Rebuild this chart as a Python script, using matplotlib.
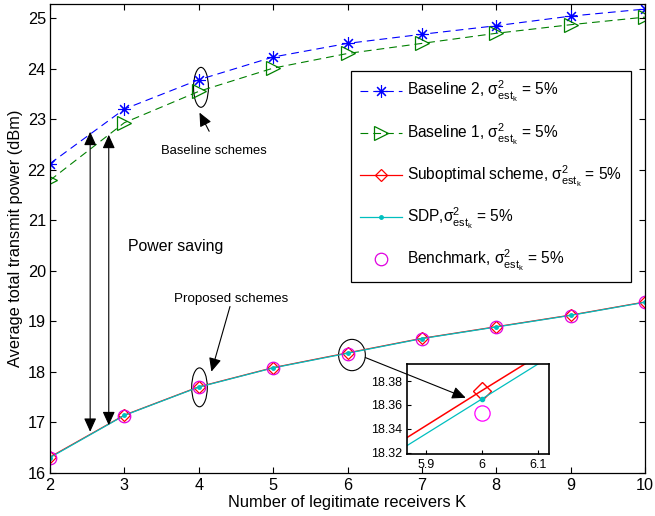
import matplotlib
matplotlib.use("Agg")
import matplotlib.pyplot as plt
from matplotlib.patches import Ellipse

plt.rcParams['font.family'] = ['Liberation Sans', 'DejaVu Sans']
plt.rcParams['mathtext.fontset'] = 'custom'
plt.rcParams['mathtext.rm'] = 'Liberation Sans'
plt.rcParams['mathtext.it'] = 'Liberation Sans:italic'
plt.rcParams['mathtext.bf'] = 'Liberation Sans:bold'

K = [2, 3, 4, 5, 6, 7, 8, 9, 10]
baseline2 = [22.12, 23.20, 23.78, 24.23, 24.50, 24.68, 24.85, 25.04, 25.18]
baseline1 = [21.79, 22.93, 23.55, 24.01, 24.30, 24.50, 24.70, 24.87, 25.02]
suboptimal = [16.31, 17.14, 17.70, 18.08, 18.372, 18.66, 18.89, 19.12, 19.38]
sdp = [16.30, 17.135, 17.695, 18.075, 18.365, 18.655, 18.885, 19.115, 19.375]
benchmark = [16.30, 17.13, 17.69, 18.07, 18.353, 18.65, 18.88, 19.11, 19.37]

xlabel = "Number of legitimate receivers K"
ylabel = "Average total transmit power (dBm)"
sig = r"$\mathrm{σ}^2_{\mathrm{est}_{\mathrm{k}}}$"
labels = ["Baseline 2, " + sig + " = 5%",
          "Baseline 1, " + sig + " = 5%",
          "Suboptimal scheme, " + sig + " = 5%",
          "SDP," + sig + " = 5%",
          "Benchmark, " + sig + " = 5%"]

fig = plt.figure(figsize=(6.55, 5.16), dpi=100)
ax = fig.add_axes([50/655, (516-472.7)/516, (645-50)/655, (472.7-4)/516])

dash = (0, (7, 4.5))
ax.plot(K, baseline2, color='blue', linestyle=dash, lw=0.8, marker=(8, 2, 0),
        markersize=9, markeredgewidth=0.8, label=labels[0])
ax.plot(K, baseline1, color='#008000', linestyle=dash, lw=0.8, marker='>',
        markersize=10.5, markerfacecolor='none', markeredgewidth=0.9, label=labels[1])
ax.plot(K, suboptimal, color='red', lw=0.9, marker='D', markersize=6,
        markerfacecolor='none', markeredgewidth=0.9, label=labels[2])
ax.plot(K, sdp, color='#00BFBF', lw=0.9, marker='.', markersize=5, label=labels[3])
ax.plot(K, benchmark, color='#E000E0', lw=0, marker='o', markersize=9,
        markerfacecolor='none', markeredgewidth=0.9, label=labels[4])

ax.set_xlim(2, 10)
ax.set_ylim(16, 25.28)
ax.set_xticks(range(2, 11))
ax.set_yticks(range(16, 26))
ax.tick_params(direction='in', top=True, right=True, labelsize=11.7, length=4)
ax.tick_params(axis='y', pad=3)
ax.tick_params(axis='x', pad=4)
for s in ax.spines.values():
    s.set_linewidth(0.9)
ax.set_xlabel(xlabel, fontsize=11.8, labelpad=1)
ax.set_ylabel(ylabel, fontsize=11.8, labelpad=3)

leg = ax.legend(loc='upper left', bbox_to_anchor=(351/655, (516-70.7)/516),
                bbox_transform=fig.transFigure, fontsize=11.2, labelspacing=1.1,
                handlelength=2.7, handletextpad=0.35, borderpad=0.55, borderaxespad=0,
                fancybox=False, framealpha=1, edgecolor='black')
leg.get_frame().set_linewidth(0.9)

# Ellipses
ax.add_patch(Ellipse((4.03, 23.63), 0.2, 0.79, fill=False, ec='black', lw=0.8))
ax.add_patch(Ellipse((4.01, 17.69), 0.21, 0.77, fill=False, ec='black', lw=0.8))
ax.add_patch(Ellipse((6.06, 18.33), 0.36, 0.62, fill=False, ec='black', lw=0.8))

ap = dict(arrowstyle='-|>,head_length=0.55,head_width=0.25', color='black', lw=0.8,
          mutation_scale=15, shrinkA=0, shrinkB=0)
ax.annotate("", xy=(4.01, 23.13), xytext=(4.14, 22.76), arrowprops=ap)
ax.text(4.2, 22.36, "Baseline schemes", fontsize=9.4, ha='center', va='center')
ax.annotate("", xy=(4.17, 18.0), xytext=(4.42, 19.29), arrowprops=ap)
ax.text(4.44, 19.44, "Proposed schemes", fontsize=9.6, ha='center', va='center')
ax.text(3.055, 20.47, "Power saving", fontsize=11.4, ha='left', va='center')

ap2 = dict(arrowstyle='<|-|>,head_length=0.55,head_width=0.25', color='black', lw=0.8,
           mutation_scale=15, shrinkA=0, shrinkB=0)
ax.annotate("", xy=(2.54, 22.75), xytext=(2.54, 16.81), arrowprops=ap2)
ax.annotate("", xy=(2.79, 22.69), xytext=(2.79, 16.94), arrowprops=ap2)

# Inset
axins = fig.add_axes([406.7/655, (516-454)/516, (548.7-406.7)/655, (454-364.3)/516])
axins.plot(K, suboptimal, color='red', lw=1.1, marker='D', markersize=9,
           markerfacecolor='none', markeredgewidth=1.0)
axins.plot(K, sdp, color='#00BFBF', lw=0.9, marker='.', markersize=6)
axins.plot(K, benchmark, color='#FF00FF', lw=0, marker='o', markersize=11,
           markerfacecolor='none', markeredgewidth=0.9)
axins.set_xlim(5.865, 6.12)
axins.set_ylim(18.319, 18.394)
axins.set_xticks([5.9, 6, 6.1])
axins.set_xticklabels(["5.9", "6", "6.1"])
axins.set_yticks([18.32, 18.34, 18.36, 18.38])
axins.tick_params(direction='in', labelsize=9, length=3, pad=3.5)
for s in axins.spines.values():
    s.set_linewidth(1.2)

axins.annotate("", xy=(5.971, 18.366), xytext=(6.24, 18.28),
               xycoords='data', textcoords=ax.transData,
               arrowprops=ap, annotation_clip=False)

fig.savefig("out.png", dpi=100)
